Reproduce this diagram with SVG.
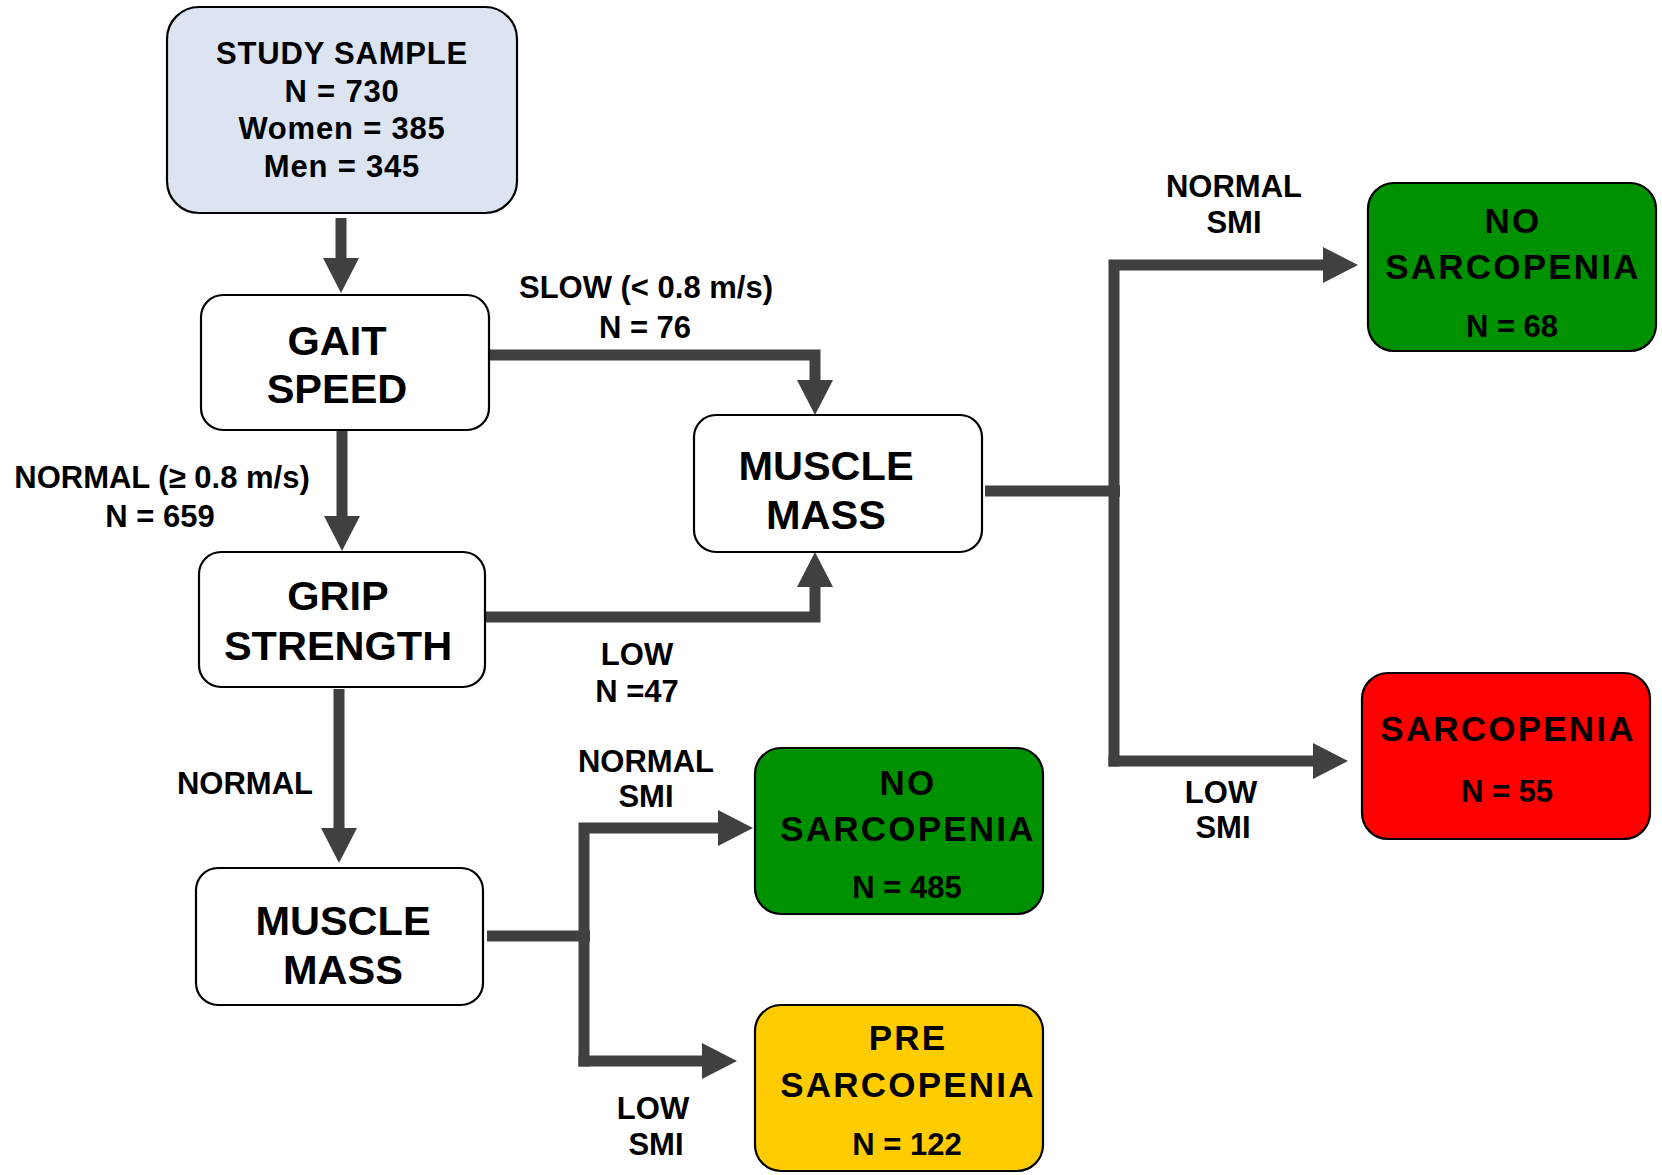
<svg xmlns="http://www.w3.org/2000/svg" width="1662" height="1175" viewBox="0 0 1662 1175">
<style>
text{font-family:"Liberation Sans",Arial,sans-serif;font-weight:bold;fill:#000;text-anchor:middle}
.box{stroke:#000;stroke-width:2.2}
.w{fill:#fff}
.node{font-size:41.5px}
.out{font-size:35px;letter-spacing:2.2px}
.n{font-size:31px}
.s{font-size:31px;letter-spacing:0.8px}
.lbl{font-size:31px}
.con{fill:none;stroke:#404040;stroke-width:11;stroke-linejoin:miter}
</style>
<defs>
<marker id="ah" viewBox="0 0 35 36" refX="0" refY="18" markerWidth="35" markerHeight="36" markerUnits="userSpaceOnUse" orient="auto">
<path d="M0,0 L35,18 L0,36 Z" fill="#404040"/>
</marker>
</defs>
<rect width="1662" height="1175" fill="#fff"/>

<g id="connectors">
<path class="con" d="M341,218 V258" marker-end="url(#ah)"/>
<path class="con" d="M342,430 V516" marker-end="url(#ah)"/>
<path class="con" d="M489,355 H815 V380" marker-end="url(#ah)"/>
<path class="con" d="M485,617 H815 V587" marker-end="url(#ah)"/>
<path class="con" d="M339,689 V828" marker-end="url(#ah)"/>
<path class="con" d="M985,491 H1120"/>
<path class="con" d="M1114,766.5 V265 H1323" marker-end="url(#ah)"/>
<path class="con" d="M1108.5,761 H1313" marker-end="url(#ah)"/>
<path class="con" d="M487,936 H590"/>
<path class="con" d="M584,1066.5 V828 H718" marker-end="url(#ah)"/>
<path class="con" d="M578.5,1061 H702" marker-end="url(#ah)"/>
</g>

<g id="edge-labels">
<text class="lbl" x="646" y="298">SLOW (&lt; 0.8 m/s)</text>
<text class="lbl" x="645" y="338">N = 76</text>
<text class="lbl" x="162" y="488">NORMAL (≥ 0.8 m/s)</text>
<text class="lbl" x="160" y="527">N = 659</text>
<text class="lbl" x="637" y="665">LOW</text>
<text class="lbl" x="637" y="702">N =47</text>
<text class="lbl" x="245" y="794">NORMAL</text>
<text class="lbl" x="1234" y="197">NORMAL</text>
<text class="lbl" x="1234" y="233">SMI</text>
<text class="lbl" x="1221" y="803">LOW</text>
<text class="lbl" x="1223" y="838">SMI</text>
<text class="lbl" x="646" y="772">NORMAL</text>
<text class="lbl" x="646" y="807">SMI</text>
<text class="lbl" x="653" y="1119">LOW</text>
<text class="lbl" x="656" y="1155">SMI</text>
</g>

<g id="study-sample">
<rect class="box" x="167" y="7" width="350" height="206" rx="32" fill="#dbe4f0"/>
<text class="s" x="342" y="64">STUDY SAMPLE</text>
<text class="s" x="342" y="102">N = 730</text>
<text class="s" x="342" y="139">Women = 385</text>
<text class="s" x="342" y="177">Men = 345</text>
</g>

<g id="gait-speed">
<rect class="box w" x="201" y="295" width="288" height="135" rx="22"/>
<text class="node" x="337" y="355">GAIT</text>
<text class="node" x="337" y="403">SPEED</text>
</g>

<g id="grip-strength">
<rect class="box w" x="199" y="552" width="286" height="135" rx="22"/>
<text class="node" x="338" y="610">GRIP</text>
<text class="node" x="338" y="660">STRENGTH</text>
</g>

<g id="muscle-mass-1">
<rect class="box w" x="694" y="415" width="288" height="137" rx="22"/>
<text class="node" x="826" y="480">MUSCLE</text>
<text class="node" x="826" y="529">MASS</text>
</g>

<g id="muscle-mass-2">
<rect class="box w" x="196" y="868" width="287" height="137" rx="22"/>
<text class="node" x="343" y="935">MUSCLE</text>
<text class="node" x="343" y="984">MASS</text>
</g>

<g id="no-sarcopenia-1">
<rect class="box" x="1368" y="183" width="288" height="168" rx="26" fill="#009100"/>
<text class="out" x="1513" y="233">NO</text>
<text class="out" x="1513" y="279">SARCOPENIA</text>
<text class="n" x="1512" y="337">N = 68</text>
</g>

<g id="sarcopenia">
<rect class="box" x="1362" y="673" width="288" height="166" rx="26" fill="#ff0000"/>
<text class="out" x="1508" y="741">SARCOPENIA</text>
<text class="n" x="1507" y="802">N = 55</text>
</g>

<g id="no-sarcopenia-2">
<rect class="box" x="755" y="748" width="288" height="166" rx="26" fill="#009100"/>
<text class="out" x="908" y="795">NO</text>
<text class="out" x="908" y="841">SARCOPENIA</text>
<text class="n" x="907" y="898">N = 485</text>
</g>

<g id="pre-sarcopenia">
<rect class="box" x="755" y="1005" width="288" height="166" rx="26" fill="#ffcc00"/>
<text class="out" x="908" y="1050">PRE</text>
<text class="out" x="908" y="1097">SARCOPENIA</text>
<text class="n" x="907" y="1155">N = 122</text>
</g>
</svg>
